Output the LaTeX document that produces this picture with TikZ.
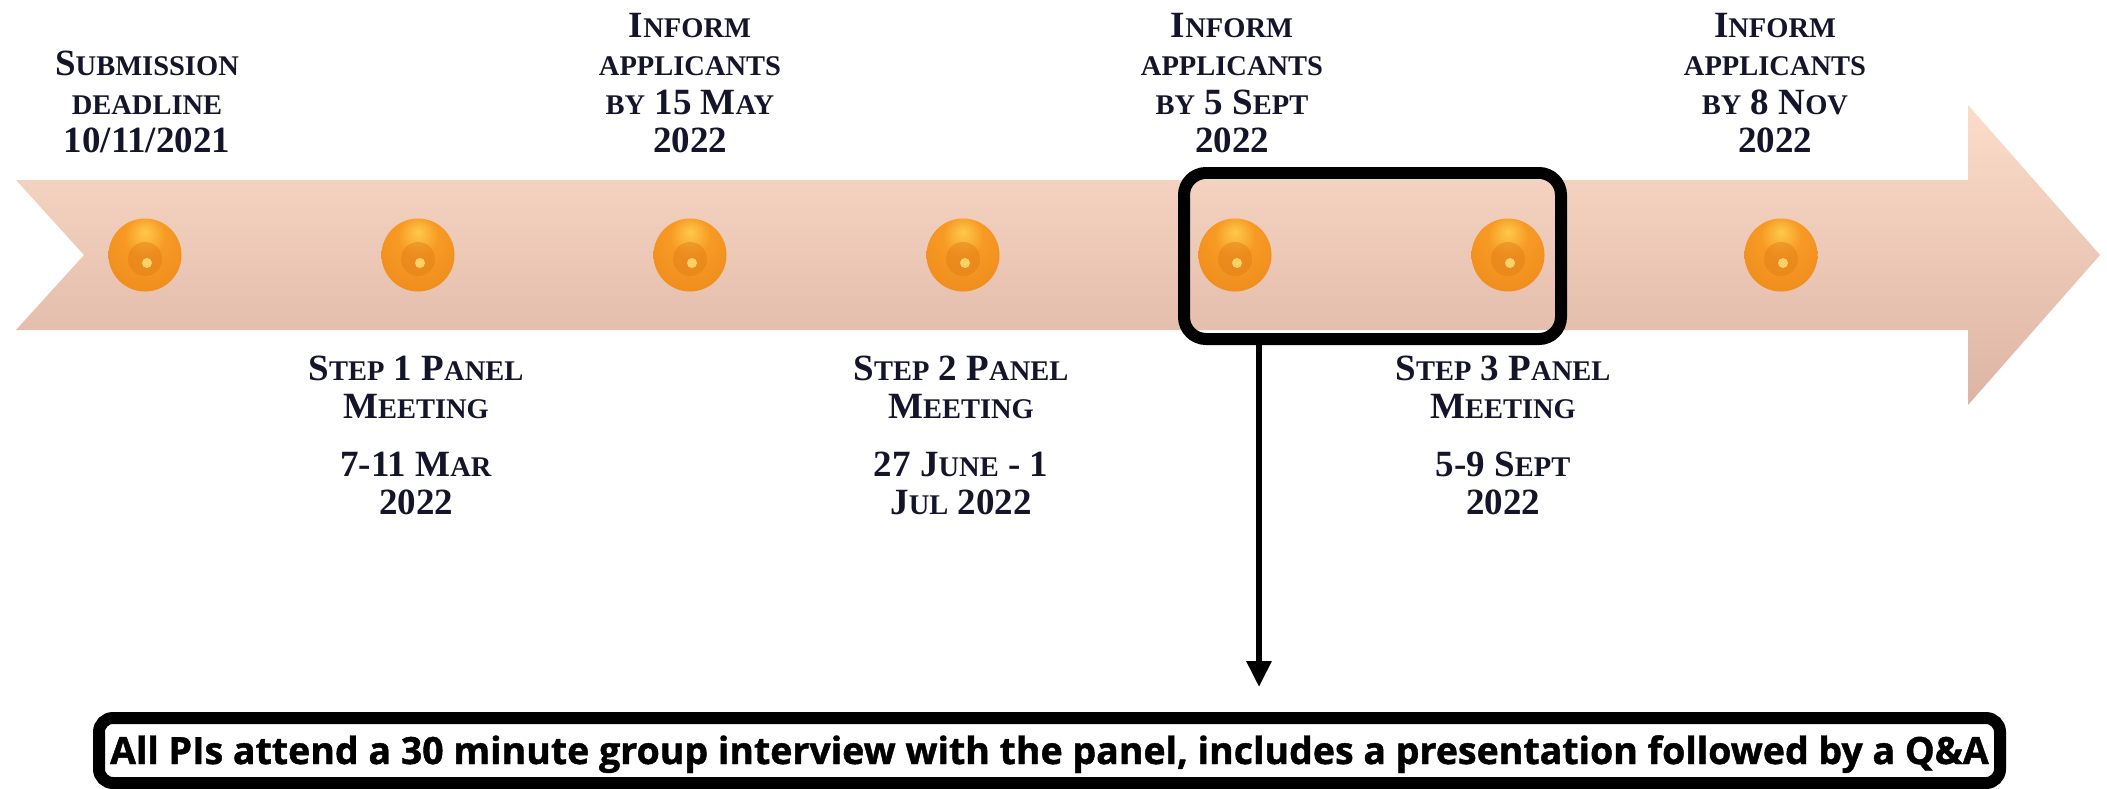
\documentclass[tikz,border=0pt]{standalone}
\usepackage{fontspec}
\setmainfont{Liberation Serif}
\newfontfamily\osans[FakeBold=1.2]{Open Sans}
\usetikzlibrary{arrows.meta}
\definecolor{txt}{HTML}{14142A}
\definecolor{arrtop}{HTML}{FCDCCA}
\definecolor{arrmid}{HTML}{EDC6B5}
\definecolor{arrbot}{HTML}{DDB4A3}
\definecolor{ballhi}{HTML}{FDC94A}
\definecolor{ballmid}{HTML}{F79A24}
\definecolor{ballor}{HTML}{EE8A1C}
\definecolor{balldark}{HTML}{A8561A}
\definecolor{ballring}{HTML}{E07C16}
\definecolor{balldot}{HTML}{FCD266}
\pgfdeclareradialshading{ballshade}{\pgfpoint{0bp}{16bp}}{color(0bp)=(ballhi); color(14bp)=(ballmid); color(38bp)=(ballor); color(54bp)=(balldark); color(70bp)=(balldark)}
\newcommand\smc[1]{{\fontsize{28.5}{38.5}\selectfont #1}}
\tikzset{
  toptext/.style={font=\fontsize{37}{38.5}\selectfont\bfseries, text=txt, align=center, anchor=south, inner sep=0pt, text depth=0pt},
  ball/.style={circle, minimum size=73pt, inner sep=0pt, shading=ballshade},
  hlbox/.style={draw=black, line width=12pt, rounded corners=22pt, minimum width=377pt, minimum height=166pt, inner sep=0pt},
  notebox/.style={draw=black, fill=white, line width=12pt, rounded corners=14pt, minimum width=1901pt, minimum height=65pt, inner sep=0pt, text height=27pt, text depth=0pt, font=\osans\bfseries\fontsize{37.5}{40}\selectfont},
  pointer/.style={line width=6pt, -{Triangle[length=26pt,width=24pt]}}
}
\begin{document}
\begin{tikzpicture}[x=1pt,y=-1pt]
\useasboundingbox[fill=white] (0,0) rectangle (2107,789);
% timeline arrow
\shade[top color=arrtop, middle color=arrmid, bottom color=arrbot]
  (16,180) -- (1968,180) -- (1968,105) -- (2100,255) -- (1968,405) -- (1968,330) -- (16,330) -- (84,255) -- cycle;
% balls
\foreach \i/\x in {1/145,2/418,3/690,4/963,5/1235,6/1508,7/1781}{
  \node[ball] (b\i) at (\x,255) {};
  \fill[ballring, opacity=0.45] ([yshift=-4pt]b\i.center) circle[radius=17pt];
  \fill[balldot] ([shift={(2pt,-8pt)}]b\i.center) circle[radius=5pt];
}
% texts above
\node[toptext] (t1) at (147,153) {S\smc{UBMISSION}\\\smc{DEADLINE}\\10/11/2021};
\node[toptext] (t2) at (690,153) {I\smc{NFORM}\\\smc{APPLICANTS}\\\smc{BY} 15 M\smc{AY}\\2022};
\node[toptext] (t3) at (1232,153) {I\smc{NFORM}\\\smc{APPLICANTS}\\\smc{BY} 5 S\smc{EPT}\\2022};
\node[toptext] (t4) at (1775,153) {I\smc{NFORM}\\\smc{APPLICANTS}\\\smc{BY} 8 N\smc{OV}\\2022};
% texts below
\node[toptext] (s1) at (416,515) {S\smc{TEP} 1 P\smc{ANEL}\\M\smc{EETING}\\[19pt]7-11 M\smc{AR}\\2022};
\node[toptext] (s2) at (961,515) {S\smc{TEP} 2 P\smc{ANEL}\\M\smc{EETING}\\[19pt]27 J\smc{UNE} - 1\\J\smc{UL} 2022};
\node[toptext] (s3) at (1503,515) {S\smc{TEP} 3 P\smc{ANEL}\\M\smc{EETING}\\[19pt]5-9 S\smc{EPT}\\2022};
% highlight box
\node[hlbox] (hl) at (1372.5,256) {};
% note box
\node[notebox] (note) at (1049.5,750.5) {All PIs attend a 30 minute group interview with the panel, includes a presentation followed by a Q\&A};
\coordinate (tip) at (1259,687);
\draw[pointer] (hl.south -| tip) -- (tip);
\end{tikzpicture}
\end{document}
